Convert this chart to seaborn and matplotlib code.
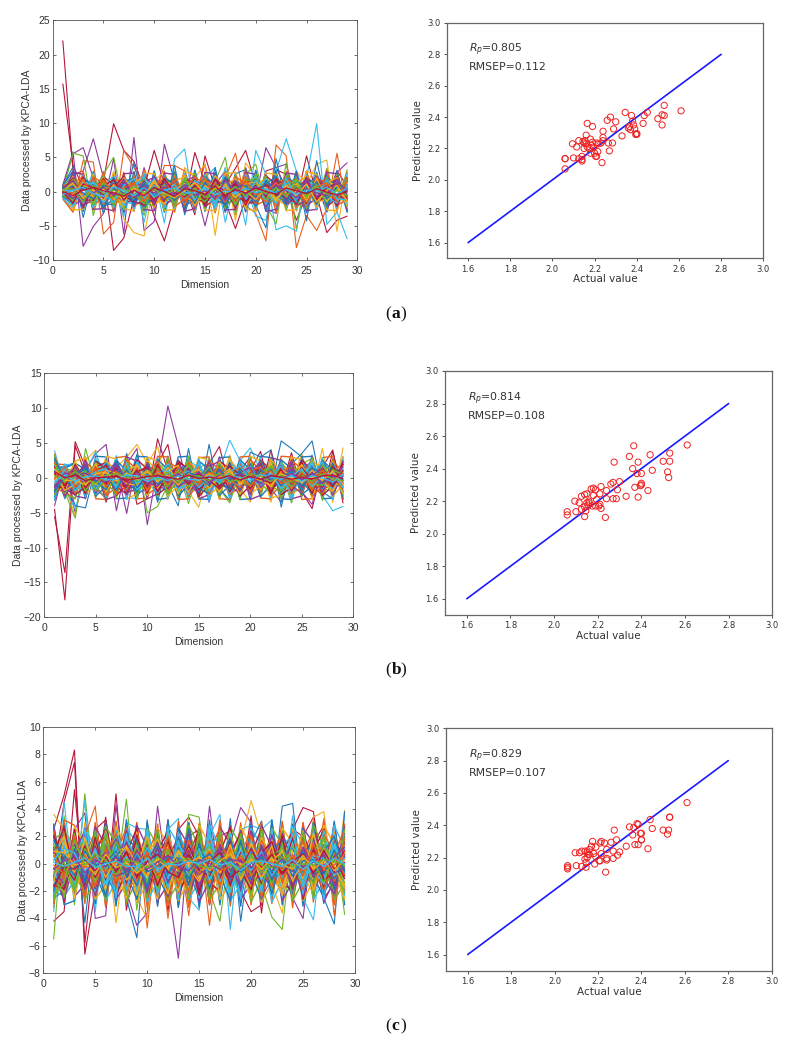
import numpy as np
import matplotlib
matplotlib.use('Agg')
import matplotlib.pyplot as plt
import seaborn as sns

dims=list(range(1,30))
matlab_colors=['#1f78b8','#e8601c','#f2ae1c','#8e3a9d','#6fb52c','#35bdf0','#b5173a']

# ---- panel a ----
a_peaks=[
[22.0,3.0,-1.2,0.8,1.5, 9.9,6.0,4.4,0.5,6.0, 1.0,2.0,-1.5,5.7,1.2, -0.8,1.0,3.4,6.0,1.0, -1.0,3.2,2.5,-1.5,5.2, -0.5,-6.0,-4.2,-3.6],
[15.7,3.8,0.5,-1.0,2.8, -8.6,-6.8,-1.0,1.0,-3.6, -7.2,-2.0,0.8,-3.4,5.2, 0.5,-1.5,-5.4,-1.0,-2.0, 3.0,3.5,0.5,-4.2,-0.5, 2.5,-1.0,3.0,0.8],
[0.5,5.5,6.4,2.0,-2.0, 4.8,-6.2,7.9,-5.7,-4.4, 6.9,1.5,-2.0,1.0,-5.0, 1.0,3.0,-2.0,3.5,-1.0, 6.4,3.5,4.0,-1.5,-2.5, 1.0,-3.0,2.8,4.2],
[1.0,5.8,-8.0,-5.1,-3.2, 1.5,-2.0,2.5,-2.8,1.0, -2.0,1.8,-3.0,3.0,-2.0, 2.0,-1.5,2.2,-3.0,1.2, -2.5,-3.2,2.0,-2.0,1.5, -2.0,2.5,-2.0,2.0],
[-0.6,2.5,3.0,7.7,2.0, -1.5,2.0,-2.5,3.5,-2.0, 1.5,-2.0,2.5,-1.8,1.0, -2.5,2.0,-1.0,1.5,-2.5, 2.0,-1.5,1.8,-2.4,1.2, 2.0,-2.0,1.5,-2.2],
[-0.5,-2.0,4.5,4.3,-6.2, -4.5,6.0,3.5,1.0,-1.0, 3.8,3.8,3.0,-1.0,4.0, -3.0,2.0,5.6,-2.0,-3.2, -7.2,6.8,5.2,-8.2,-3.5, -5.7,-2.5,5.6,-3.0],
[-0.8,-3.0,1.5,-2.0,1.0, 2.0,-4.0,-6.0,-6.5,1.5, 3.0,-2.5,3.5,2.0,4.0, -6.4,3.5,-4.2,4.2,2.0, -1.5,2.0,-2.5,3.0,1.0, 4.0,4.6,-5.8,2.8],
[0.3,2.0,-1.0,3.0,-3.0, 1.0,-3.7,2.0,-4.5,2.0, -4.6,4.7,6.2,-3.0,2.0, 3.5,-4.5,2.0,-4.9,6.0, 2.5,-5.6,-5.0,-5.8,2.0, 9.9,-4.8,-3.0,-6.9],
[0.5,-1.0,2.0,-2.0,2.5, -2.5,1.5,-2.0,3.0,-2.5, 2.0,-1.0,2.0,-3.0,1.5, -2.0,3.5,-2.5,1.0,-3.6, -4.2,3.0,7.7,3.0,-1.0, 2.5,-2.0,1.5,-3.0],
[0.2,5.6,5.2,-3.5,2.5, 5.0,-2.0,1.5,-3.5,2.0, -1.5,3.0,-2.8,2.5,-2.0, 1.5,5.0,-3.4,2.5,4.0, -2.0,-4.7,4.2,-5.5,3.0, -2.0,3.4,-2.0,3.2],
[0.8,3.6,-3.8,2.0,-3.2, 2.4,-1.5,4.2,-2.5,2.8, -3.0,3.8,-3.4,2.0,-2.2, 3.5,-3.0,2.6,3.2,-2.0, -5.3,4.8,-2.0,3.0,-4.3, 4.5,-2.2,3.0,-3.0],
]
a_peak_colors=['#b5173a','#b5173a','#8e3a9d','#8e3a9d','#8e3a9d','#e8601c','#f2ae1c','#35bdf0','#35bdf0','#6fb52c','#1f78b8']
a_wide=[
[0.9,3.0,-2.9,2.8,-3.0, 2.7,-3.1,2.9,-2.8,3.0, -3.0,2.8,-2.7,3.1,-2.9, 2.8,-3.0,2.7,-2.9,3.1, -2.8,3.0,-2.7,2.9,-3.1, 2.8,-2.9,3.0,-2.8],
[-1.1,-3.0,2.9,-2.7,2.9, -3.0,2.8,-2.9,3.1,-2.7, 2.9,-3.0,3.1,-2.8,2.7, -3.1,2.9,-2.8,3.0,-2.9, 2.7,-3.1,2.9,-2.8,3.0, -2.7,3.1,-2.9,2.8],
[0.5,-2.7,-2.6,2.6,-2.7, 2.9,-2.5,-2.8,2.7,2.6, -2.8,-2.6,2.9,2.5,-2.7, -2.8,2.6,2.8,-2.5,-2.9, 2.7,2.5,-2.8,-2.6,2.9, 2.5,-2.7,-2.8,2.6],
[-0.8,2.8,2.5,-2.6,-2.5, -2.8,2.6,2.7,-2.6,-2.8, 2.7,2.5,-2.9,-2.5,2.8, 2.6,-2.7,-2.6,2.8,2.5, -2.9,-2.6,2.7,2.5,-2.8, -2.6,2.8,2.6,-2.7],
[0.7,2.4,-2.3,2.2,-2.4, 2.1,-2.6,2.4,-2.5,2.3, -2.6,2.5,-2.2,2.6,-2.4, 2.2,-2.5,2.4,-2.2,2.6, -2.3,2.4,-2.6,2.1,-2.5, 2.3,-2.4,2.5,-2.2],
[-0.9,-2.5,2.4,-2.3,2.3, -2.4,2.2,-2.6,2.6,-2.2, 2.3,-2.4,2.6,-2.3,2.5, -2.6,2.3,-2.2,2.5,-2.4, 2.5,-2.2,2.3,-2.5,2.4, -2.6,2.2,-2.4,2.6],
[0.4,1.9,-2.0,-1.2,2.1, 1.1,-1.9,-1.0,2.2,0.9, -2.1,-0.8,1.8,1.3,-2.2, -1.1,2.0,0.8,-1.9,-1.4, 2.3,1.0,-2.0,-0.9,1.9, 1.2,-2.2,-1.0,2.1],
[-0.5,-1.8,1.9,1.0,-2.1, -1.2,2.0,0.9,-2.2,-0.8, 1.9,1.2,-2.0,-1.3,2.2, 0.9,-2.1,-1.0,1.8,1.1, -2.2,-0.8,2.1,1.2,-1.9, -1.1,2.1,0.8,-2.0],
[0.9,1.2,2.2,-1.9,-1.0, 2.0,1.1,-2.1,-1.2,2.1, 0.8,-2.2,-1.1,2.0,1.3, -1.9,-0.9,2.2,1.0,-2.0, -1.3,2.0,0.9,-2.3,-1.0, 1.9,1.1,-2.0,-1.2],
[-0.2,2.2,0.9,-2.2,1.8, -1.1,-2.2,1.9,1.2,-1.9, -1.0,1.6,2.1,-1.6,-1.4, 2.3,0.6,-1.8,2.0,-1.2, -0.7,1.7,-2.1,1.3,2.2, -1.5,-1.2,2.0,-1.8],
[0.6,-2.1,-1.0,2.0,-1.5, 1.7,0.6,-2.2,1.5,2.0, -1.7,-1.2,1.2,-2.3,1.8, 0.8,-1.6,1.9,-2.2,-0.7, 1.8,-1.5,0.7,2.0,-2.1, -0.9,1.9,-1.5,1.0],
[-0.7,1.5,-1.4,0.7,2.2, -2.1,1.6,1.0,-1.6,-2.1, 2.2,0.5,-1.7,1.6,-1.3, 2.0,-2.2,-0.6,1.4,2.1, -1.8,-1.0,2.2,-1.2,0.8, 2.0,-1.7,1.1,-2.2],
[0.3,-1.4,1.3,-2.3,0.9, 2.2,-1.5,-1.8,0.8,1.7, -2.3,1.3,-1.1,2.0,-0.7, -2.1,1.7,-1.3,0.6,2.2, -1.4,2.1,-1.6,-1.7,1.5, 0.7,-2.1,1.7,-0.8],
[-0.1,2.0,-2.4,1.7,-1.9, 0.6,2.2,-1.4,-2.0,1.5, 0.7,-2.0,2.0,-0.9,-1.6, 1.9,0.4,-2.3,1.6,0.9, -2.1,1.5,1.2,-1.8,2.1, -1.6,-0.6,2.2,-1.3],
[0.8,-1.7,2.0,0.6,-1.8, -1.9,1.4,2.0,-0.9,-1.6, 2.1,1.0,-2.2,0.5,2.0, -1.3,-1.8,1.6,0.7,-2.2, 1.1,2.2,-0.9,-1.5,1.3, 1.9,-2.0,-0.5,1.8],
[-0.6,0.7,-1.7,2.1,1.2, -1.7,-1.1,2.2,-1.3,0.5, -1.9,2.2,-0.5,-2.0,1.4, 1.2,-2.0,0.5,2.2,-1.7, 0.4,-2.0,1.9,0.9,-2.2, 1.3,1.8,-1.9,0.4],
[0.2,-2.6,1.6,-1.0,2.0, -0.5,-2.0,1.3,2.1,-2.3, 1.0,-1.5,2.3,-1.2,-0.9, 2.1,-1.4,1.5,-2.4,0.8, 2.0,-1.1,-2.0,1.7,0.5, -2.3,1.4,0.9,-2.1],
[-0.3,2.7,-1.1,1.3,-2.4, 1.3,0.9,-1.6,-1.7,2.2, -0.4,-1.8,1.5,2.2,-2.0, 0.5,1.6,-2.2,0.9,1.8, -2.2,0.6,1.6,-2.0,-1.3, 2.2,0.5,-2.2,1.6],
]
a_band=[
[0.2,-1.5,1.0,-2.0,1.5, -1.8,0.8,-1.2,2.0,-1.5, 1.2,-2.2,1.6,-0.8,2.1, -1.6,0.5,-2.0,1.8,-1.0, 2.2,-0.9,1.4,-2.1,0.7, -1.7,2.0,-1.3,0.9],
[-0.3,0.9,-1.7,1.6,-0.6, 1.4,-2.1,1.0,-0.7,1.9, -1.3,0.6,-1.9,1.5,-1.1, 2.0,-1.4,1.1,-0.5,1.7, -1.9,1.2,-0.6,1.8,-2.0, 0.9,-1.2,1.6,-1.8],
[0.6,-0.4,2.1,-1.1,1.9, -0.7,1.3,-1.8,0.4,-2.0, 1.7,-0.8,1.1,-1.9,0.8, -1.2,1.9,-0.5,-1.6,1.3, -0.6,1.6,-1.7,0.5,1.8, -1.4,0.7,-2.0,1.5],
[-0.7,-1.9,0.7,-0.4,-1.4, 2.0,-0.9,1.7,-1.6,0.9, -0.5,1.8,-1.2,1.0,-1.7, 0.6,-2.1,1.4,-0.9,1.9, -1.1,0.3,1.7,-1.3,-0.4, 1.5,-1.9,0.8,-0.7],
[0.1,1.4,-0.9,2.0,-2.1, 0.6,1.6,-0.8,-1.4,0.7, 2.0,-1.6,0.3,2.2,-1.0, -0.4,1.3,-1.5,1.0,-1.7, 0.8,-2.1,1.0,0.4,-1.5, 2.1,-0.6,-1.1,2.0],
[-0.1,-0.8,1.5,-1.6,0.5, -1.2,2.0,0.3,1.4,-0.9, -1.8,1.2,-0.7,-1.5,1.6, -0.9,0.9,1.9,-1.8,0.6, 1.5,-1.3,-0.9,1.3,-0.9, -0.5,1.3,2.0,-1.6],
[0.4,0.3,-2.3,0.8,-0.9, -0.3,-1.4,1.1,0.9,-1.6, 0.6,1.4,-1.5,0.7,-0.6, 1.7,-1.1,0.4,1.3,-1.3, 0.2,1.1,-1.8,-0.8,2.0, -1.0,1.0,-0.7,0.3],
[-0.5,1.8,0.3,-0.7,1.1, -2.0,0.5,-0.4,-1.1,1.4, -0.9,-1.1,2.0,-0.3,-1.3, 1.1,-0.6,-1.1,0.7,2.0, -0.4,-1.6,0.7,1.9,-1.1, 0.5,-1.6,1.2,-0.2],
[0.3,-2.2,1.3,1.2,-1.7, 0.9,-1.0,0.6,2.2,-0.4, 1.0,-0.5,0.9,-1.2,0.3, -1.9,1.5,-0.2,-1.3,0.4, 1.8,-0.4,1.2,-1.6,0.2, 1.2,-0.8,-1.7,1.1],
[-0.2,0.6,-1.2,-1.3,0.8, 1.7,-0.6,-1.5,0.5,1.1, -1.4,0.9,-0.3,1.8,-1.9, 0.2,-0.8,1.0,-2.0,0.9, -0.8,1.9,-1.2,0.9,-1.8, 1.7,0.3,-0.4,-1.3],
[0.7,-1.1,0.4,1.0,-2.4, 0.4,1.1,-2.0,1.2,0.2, -1.1,-0.3,1.4,-0.6,1.2, -0.7,2.1,-1.2,0.3,-0.8, 1.3,-0.2,-2.0,1.5,0.6, -1.9,1.7,-0.9,0.6],
[-0.4,1.1,-0.5,0.4,1.6, -1.5,-0.4,1.4,-0.9,-1.2, 0.4,1.6,-2.0,1.2,-0.4, 1.3,-1.7,0.7,1.5,-0.3, -1.5,0.8,1.5,-0.5,-1.2, 0.2,1.0,-1.5,1.9],
[0.0,-0.5,1.8,-0.9,0.3, 0.9,-1.7,0.9,-0.3,1.6, -0.7,0.2,1.2,-2.1,0.9, -0.4,0.3,-0.9,1.1,1.4, -0.3,-1.1,0.4,1.1,-1.4, 1.9,-1.4,0.4,-0.9],
[0.5,1.6,-1.4,0.2,-1.1, 0.2,1.4,-0.7,1.6,-1.9, 1.5,-1.4,0.6,0.5,-0.8, 0.9,-1.3,1.6,-0.6,-1.1, 0.7,1.4,-1.0,-0.2,1.4, -0.7,-0.3,1.8,-0.5],
[-0.6,-1.3,0.8,-1.8,1.3, -0.9,0.2,-0.2,-1.8,0.5, 0.9,-1.7,1.8,-0.4,-1.5, 0.7,1.2,-1.8,0.4,1.1, -1.2,0.5,-0.3,1.6,-0.7, 1.1,-1.0,0.2,1.7],
[0.2,0.1,-0.7,1.4,-0.2, -1.6,0.9,1.9,-1.0,0.9, -0.2,1.0,-1.0,1.6,0.4, -1.5,0.7,-0.4,-1.0,1.6, 0.4,-1.8,1.9,-1.1,0.9, -0.3,1.6,-1.1,-1.2],
[-0.1,-1.7,1.1,0.6,-0.5, 1.2,-1.2,0.1,0.7,-1.3, 1.9,-0.2,-0.8,0.9,-1.2, 1.9,-0.4,1.2,-1.5,0.2, 1.0,-0.6,0.2,-1.9,1.2, -1.2,0.5,1.1,-1.0],
[0.4,0.8,-0.2,-1.1,0.9, 0.4,-0.2,-1.3,1.3,-0.6, 0.3,-1.3,0.4,-1.7,1.4, -0.2,-1.9,0.6,0.9,-1.5, 1.6,0.2,-1.4,0.7,-0.2, 1.4,-1.1,0.6,0.3],
[-0.3,-0.2,1.7,-0.5,1.7, -0.4,0.6,1.2,-1.3,0.3, -1.0,0.7,-1.3,0.2,1.9, -1.1,0.4,-1.4,1.6,-0.5, -0.1,1.3,-0.5,0.3,-1.6, 0.7,1.3,-0.6,1.4],
[0.1,1.2,-1.0,0.3,-1.3, 1.0,-0.9,0.5,-0.5,1.3, -0.3,-0.9,0.1,1.3,-0.3, 0.4,1.0,-0.8,0.2,-1.2, 0.6,-1.4,0.9,-0.6,1.1, -1.5,0.2,0.9,-1.4],
[-0.2,-1.0,0.5,-0.2,0.6, -0.6,1.8,-0.9,0.2,-0.2, 0.7,-0.4,1.0,-0.6,0.1, -1.0,1.6,0.1,-0.4,0.8, -0.6,0.9,0.1,-0.9,0.4, -0.2,-0.6,1.4,0.2],
[0.3,0.4,-1.5,0.9,-0.3, 0.2,-0.5,0.8,-0.2,0.4, -0.6,0.3,-0.5,0.5,-0.9, 0.3,-0.3,0.7,-0.7,0.3, -0.3,0.5,-0.7,0.8,-0.5, 0.6,-0.4,0.1,-0.6],
[-0.4,0.2,0.6,-0.3,-0.7, 0.7,0.1,-0.6,0.6,-0.8, 0.2,0.5,-0.2,-0.2,0.6, -0.5,0.1,-0.3,0.5,-0.2, 0.4,-0.3,0.3,-0.4,0.2, 0.1,0.6,-0.4,0.5],
[0.0,-0.6,0.2,0.6,0.1, -0.2,-0.7,0.2,-0.6,0.6, 0.0,-0.7,0.4,0.1,-0.4, 0.8,-0.6,0.3,-0.2,0.5, 0.0,-0.4,0.5,0.1,-0.3, 0.4,-0.1,-0.5,0.0],
]
a_actual=[2.06,2.06,2.06,2.095,2.10,2.115,2.125,2.125,2.14,2.14,2.14,2.145,2.15,2.15,2.155,2.16,2.16,2.165,2.165,2.175,2.18,2.18,2.185,2.19,2.19,2.195,2.20,2.205,2.21,2.21,2.215,2.22,2.23,2.235,2.24,2.24,2.24,2.26,2.265,2.27,2.275,2.285,2.29,2.30,2.33,2.345,2.36,2.365,2.37,2.375,2.38,2.385,2.39,2.395,2.40,2.40,2.43,2.435,2.45,2.50,2.52,2.52,2.53,2.53,2.61]
a_pred=[2.07,2.135,2.135,2.23,2.14,2.21,2.25,2.135,2.13,2.15,2.12,2.245,2.235,2.20,2.25,2.285,2.23,2.21,2.36,2.20,2.26,2.17,2.22,2.34,2.24,2.21,2.17,2.15,2.15,2.235,2.18,2.23,2.235,2.11,2.31,2.27,2.25,2.38,2.235,2.185,2.40,2.235,2.325,2.37,2.28,2.43,2.33,2.34,2.32,2.41,2.375,2.35,2.325,2.29,2.29,2.295,2.36,2.41,2.43,2.39,2.35,2.415,2.475,2.41,2.44]

# ---- panel b ----
b_peaks=[
[-5.6,-13.6,5.2,1.5,-1.0, 2.5,-2.0,3.0,-3.8,-3.0, 5.6,1.0,-2.0,2.5,-1.0, 2.0,4.5,-1.5,1.0,3.0, -2.0,4.0,-1.5,3.6,-2.0, -4.4,1.5,4.0,-3.6],
[-4.5,-17.5,4.6,0.5,1.5, -3.5,2.0,-2.0,1.5,-2.5, 2.0,4.8,-3.0,1.0,-2.5, 1.5,-3.0,2.5,-2.0,1.0, 3.8,-2.5,2.0,-2.0,3.0, -1.0,-2.5,3.8,-2.0],
[-4.0,1.8,-5.0,1.0,3.5, 4.8,-4.7,2.0,4.2,-6.7, 1.5,10.3,4.6,-2.0,1.5, -3.5,2.0,-1.0,2.5,-2.0, 1.5,-1.5,-3.5,2.5,-2.0, -3.8,2.0,-1.0,1.0],
[-1.0,0.5,-2.0,2.0,-1.5, -3.0,1.5,-5.1,3.0,-2.0, 2.5,-1.5,2.0,-3.0,2.5, -2.0,1.0,-2.0,1.5,-1.0, 2.0,-1.5,2.5,-1.5,1.0, 2.5,-2.0,1.5,-1.5],
[3.0,-1.0,-5.5,2.5,4.0, -3.0,1.5,3.0,4.8,2.0, 4.5,-1.5,2.5,-2.0,-4.2, 2.0,-1.5,3.3,-1.5,-3.5, 2.0,-3.5,2.5,-1.0,3.5, -2.0,4.2,-3.5,4.3],
[2.5,-2.0,-5.8,4.2,-1.0, -3.2,2.0,-1.0,2.8,-5.0, -4.1,-1.0,1.0,-3.7,1.5, 2.0,-1.5,-3.6,1.0,-2.5, 1.5,-1.5,1.0,-3.6,2.0, 2.8,-1.5,-2.0,2.0],
[3.9,-1.5,-4.5,1.0,3.8, -1.5,3.2,-2.8,-3.0,1.0, -2.6,2.8,-3.0,2.5,1.5, -3.4,1.0,5.4,2.5,4.3, 1.0,-1.0,2.0,-2.0,-1.5, 3.3,-2.5,-4.7,-4.1],
[-1.5,0.5,-4.0,-4.3,1.5, -2.8,2.5,-1.5,3.4,-2.0, 1.5,-1.0,-4.0,4.2,-3.0, 4.8,-2.5,2.0,-3.0,3.7, 3.0,4.0,-4.2,2.0,3.5, 5.3,-2.0,-3.0,2.0],
[1.0,-3.0,2.0,-2.0,2.5, 1.5,-2.5,3.5,-3.0,2.8, -3.5,2.5,-2.0,2.0,-2.5, 2.8,-1.5,-3.2,2.0,-2.0, 2.5,-1.5,5.3,4.2,3.0, -1.0,2.0,-2.0,2.5],
]
b_peak_colors=['#b5173a','#b5173a','#8e3a9d','#8e3a9d','#f2ae1c','#6fb52c','#35bdf0','#1f78b8','#1f78b8']
b_wide=[
[-3.2,1.6,2.2,-3.0,3.1, 3.0,-3.0,-2.9,3.1,3.0, -3.1,-2.9,3.0,3.1,-3.0, -3.1,2.9,3.0,-3.1,-3.0, 3.1,2.9,-3.0,-3.1,3.0, 3.1,-3.0,-2.9,3.0],
[3.4,-2.0,-3.0,3.0,-3.0, -3.1,2.9,3.1,-3.0,-2.9, 3.1,3.0,-3.1,-3.0,2.9, 3.0,-3.0,-3.1,3.0,3.1, -2.9,-3.0,3.1,3.0,-3.1, -3.0,2.9,3.1,-3.1],
[2.1,-1.4,2.4,2.9,-2.2, 3.1,2.7,-3.0,-2.3,3.0, 2.4,-3.1,2.6,-2.4,3.0, 2.5,-3.0,2.9,-2.3,3.1, 2.4,-2.9,-2.5,3.0,2.6, -3.1,2.4,-2.7,3.0],
[-2.2,1.2,-2.6,-2.9,2.3, -3.1,-2.6,3.0,2.4,-3.0, -2.3,3.1,-2.5,2.4,-3.0, -2.4,3.0,-2.8,2.3,-3.1, -2.5,2.9,2.5,-3.0,-2.6, 3.1,-2.4,2.7,-3.0],
[3.2,-2.4,-2.9,2.5,-2.8, 2.6,-2.9,2.8,-3.0,2.6, -2.7,3.0,-2.8,3.1,-2.9, 2.7,-2.8,2.5,-3.1,2.9, -2.6,2.8,-3.0,2.6,-2.7, 2.9,-3.2,2.6,-2.8],
[-3.0,1.9,1.9,-2.7,2.8, -2.8,2.7,-3.1,2.9,-2.5, 2.8,-2.9,2.6,-2.8,2.7, -3.1,2.6,-3.0,2.7,-2.6, 2.9,-2.8,2.5,-3.0,2.8, -2.5,2.9,-3.1,2.7],
[2.6,-1.6,-2.4,-1.3,2.4, 1.2,-2.5,-1.0,2.6,1.3, -2.4,-1.2,2.5,1.1,-2.7, -1.0,2.4,1.3,-2.6,-1.1, 2.5,1.2,-2.4,-1.4,2.6, 1.0,-2.5,-1.2,2.4],
[-2.7,1.4,2.1,1.2,-2.6, -1.2,2.5,1.0,-2.4,-1.3, 2.6,1.2,-2.6,-1.0,2.4, 1.3,-2.5,-1.1,2.6,1.2, -2.7,-1.0,2.6,1.3,-2.4, -1.2,2.5,1.1,-2.6],
[2.0,1.9,-1.0,2.3,0.9, -2.5,-1.4,2.6,1.1,-2.4, -1.3,2.3,1.4,-2.6,-1.0, 2.5,1.2,-2.3,-1.4,2.6, 1.0,-2.5,-1.1,2.5,1.3, -2.6,-1.2,2.4,0.9],
[-1.9,-1.2,1.8,-2.2,-1.2, 2.4,1.1,-2.3,-1.5,2.5, 1.0,-2.6,-1.1,2.3,1.2, -2.4,-1.3,2.6,0.9,-2.3, -1.2,2.6,1.0,-2.4,-1.3, 2.5,1.2,-2.6,-1.0],
[1.7,-2.6,-0.4,2.5,-1.8, 0.7,2.3,-2.1,-1.6,2.2, -0.9,-2.0,2.4,-0.7,-2.3, 1.6,2.4,-1.2,-2.2,0.8, 2.3,-1.7,-0.5,2.5,-2.0, 0.8,1.9,-2.5,0.6],
[-1.6,1.3,1.0,-1.8,2.1, -0.6,-2.4,1.9,1.0,-2.2, 2.2,0.6,-1.9,2.3,-0.8, -2.2,1.7,0.9,-2.4,2.1, -0.8,-2.2,2.2,0.5,-1.7, 2.4,-0.7,-2.0,1.9],
[2.4,0.9,-1.9,0.9,-2.4, 1.9,0.6,-1.6,2.3,-0.6, -2.2,1.5,0.8,-2.4,2.0, -0.5,-1.8,2.3,0.7,-2.1, 1.6,-0.4,2.1,-2.5,0.5, 2.2,-2.1,0.7,-2.3],
[-2.3,-0.5,0.8,-2.3,1.6, 2.2,-1.3,-2.3,0.5,1.8, -1.6,-0.5,2.2,1.4,-2.4, 0.6,-0.8,2.1,-2.0,1.3, 0.9,-2.3,1.6,-0.6,2.3, -1.7,-0.6,2.0,-1.3],
[1.2,1.7,-2.2,1.9,-0.5, -1.8,2.4,-0.4,-2.1,1.9, 0.4,-2.3,1.0,1.9,-1.5, -2.3,2.2,-0.6,1.2,-2.3, 2.4,0.5,-1.9,1.6,-0.4, -2.3,2.2,0.6,-2.0],
[-1.3,-2.2,1.3,0.6,1.8, -2.3,0.7,1.5,-1.2,0.8, 2.4,-1.7,-0.9,2.2,0.6, -1.7,0.5,-2.4,1.9,0.2, -1.9,1.7,0.5,-2.3,1.2, 1.7,-2.3,0.2,1.7],
[0.9,-0.9,2.4,-1.6,0.7, 1.6,-2.1,1.3,1.7,-2.5, 0.8,1.6,-2.3,0.4,1.7, -1.4,2.3,0.4,-2.3,1.1, -0.3,2.1,-2.2,0.9,1.8, -0.5,-1.6,2.3,-0.9],
[-0.8,0.7,-0.7,1.7,-2.0, 0.4,1.5,-2.4,0.8,1.4, -1.9,0.3,1.9,-2.1,-0.6, 2.3,-1.0,-1.5,0.9,-2.4, 1.3,0.3,1.8,-1.1,-2.2, 1.3,0.8,-1.4,2.2],
[2.9,-2.2,0.5,-0.9,2.2, -1.4,-0.7,2.1,-2.4,0.6, 1.7,-2.4,-0.2,1.6,-1.8, 1.0,-2.3,1.6,0.2,-1.7, 2.2,-1.0,-2.2,1.9,0.3, -2.1,1.0,1.7,-2.4],
[-2.6,2.0,-1.6,1.5,0.3, 2.2,-1.7,0.2,1.3,-1.7, 0.2,2.0,-1.6,-0.9,2.3, -1.9,0.8,-2.2,2.4,0.5, -1.6,1.2,-0.3,-2.0,1.5, 0.4,2.3,-1.8,0.9],
]
b_band=[
[1.5,-1.2,0.9,-1.5,1.8, -0.8,1.4,-1.9,1.1,-2.2, 1.6,-0.6,2.0,-1.7,0.7, -1.3,1.8,-2.0,0.6,-1.4, 2.1,-1.1,1.3,-1.9,0.5, -2.2,1.7,-1.2,2.0],
[-1.8,1.0,-1.2,1.7,-1.3, 2.0,-1.6,0.7,-2.0,1.3, -0.9,1.7,-1.4,0.8,-2.1, 1.5,-0.7,1.9,-1.8,2.0, -0.6,1.6,-2.1,1.2,-1.0, 1.8,-1.5,2.1,-0.8],
[2.2,0.4,-2.2,0.6,-0.9, 1.5,-2.3,1.8,0.3,-1.5, 2.1,-1.9,0.6,-1.1,1.7, -2.2,1.0,0.5,1.6,-2.0, 0.9,-1.9,0.8,1.7,-2.1, 0.6,1.5,-1.8,0.7],
[-0.6,-0.8,1.6,-0.7,2.0, -2.0,0.5,-1.0,1.9,-0.6, -1.5,0.9,1.8,-2.1,1.0, 0.3,-2.0,1.2,-0.8,1.0, -1.7,0.7,-1.4,-0.3,1.9, -1.1,0.4,1.0,-2.2],
[0.8,-2.0,0.2,1.9,-2.2, 0.9,1.7,-0.5,-1.3,1.8, -0.3,-1.6,0.5,1.4,-1.2, 1.8,-1.5,0.2,-1.9,0.7, 1.8,-0.4,-1.0,2.0,-1.4, 0.9,-2.0,0.6,1.5],
[-2.4,0.6,1.2,-1.9,0.7, -1.1,0.2,1.4,-0.9,0.4, 1.4,-2.1,-0.5,1.9,-0.5, -1.0,2.0,-1.2,1.1,-0.9, 0.3,1.5,-1.9,0.6,1.1, -1.6,1.9,-0.6,-1.2],
[1.1,1.4,-0.7,0.9,-1.6, 0.1,-1.4,2.1,-1.7,-0.2, 0.8,1.2,-1.7,0.3,1.9, -1.9,0.6,-0.6,-1.1,1.7, -1.2,0.4,1.7,-1.5,0.2, 2.0,-0.9,-1.5,1.3],
[-1.0,-1.5,1.9,-0.2,1.0, 1.8,-0.8,-1.3,0.9,1.5, -2.0,0.3,-0.8,1.2,-1.7, 0.9,-1.3,1.7,0.4,-1.6, 1.0,-2.0,0.5,-0.7,1.5, -0.4,-1.3,1.6,-0.4],
[2.8,-0.3,-1.6,1.4,-0.4, -1.7,1.0,0.2,-0.5,-1.1, 0.5,-0.9,1.3,-1.5,0.4, 1.2,-0.5,-1.7,1.3,0.3, -0.7,1.2,-1.2,0.9,-1.9, 1.4,0.6,-1.0,0.2],
[-0.2,0.9,0.5,-1.2,1.5, 0.6,-0.4,-1.8,1.4,-1.9, 1.1,-0.4,0.9,-0.7,-1.0, 0.4,1.5,-0.2,-1.4,0.9, 1.6,-0.9,0.3,-1.6,0.8, -1.8,1.2,0.1,-1.7],
[0.4,-1.8,-0.9,0.3,-1.0, 1.1,0.7,-0.8,-1.1,0.8, -0.7,1.5,-0.4,0.6,1.2, -1.5,0.2,1.3,-0.9,-0.4, 0.5,-1.3,1.1,0.4,-0.9, 1.1,-0.4,-1.9,0.9],
[-1.4,0.2,1.5,-0.6,0.4, -0.5,1.9,-0.2,0.7,-0.7, -1.2,0.5,-1.3,-0.3,0.8, -0.6,1.1,-1.1,0.8,1.5, -1.4,0.1,-0.6,1.3,-0.3, 0.3,1.4,-0.7,-0.6],
[1.9,-0.7,0.1,1.1,-1.9, -0.2,-1.0,1.0,0.1,1.1, 0.2,-1.2,1.1,-1.3,-0.2, 1.6,-0.9,0.6,-0.2,-1.2, 0.7,1.7,-0.3,-1.2,0.9, -0.7,-1.1,1.2,0.4],
[-0.9,1.2,-1.9,0.1,0.9, 1.3,-1.2,0.5,-0.7,0.1, -0.4,0.7,0.2,1.0,-1.4, 0.1,-0.7,0.9,1.7,-0.2, -1.0,0.6,-1.6,0.2,1.3, -1.2,0.2,0.8,-1.4],
[0.6,-1.0,1.0,-1.4,0.2, -0.9,0.4,-0.6,1.1,-1.3, 1.9,-0.6,0.4,-0.9,0.6, -0.3,-1.6,0.2,-0.6,0.6, -0.2,-0.7,1.2,-0.9,0.5, -0.1,0.8,-1.3,1.1],
[-2.0,0.1,0.7,1.3,-0.6, 0.3,-1.8,1.2,-1.4,0.6, -0.9,0.1,-0.6,0.8,0.1, -1.1,1.3,-0.4,0.9,-0.8, 1.2,-0.2,0.1,0.9,-1.1, 0.5,-0.7,0.3,-0.3],
[0.0,1.6,-1.4,0.4,1.2, -1.3,0.9,-0.3,0.5,-0.4, 0.6,-1.0,1.5,-0.2,-0.7, 0.8,0.2,-0.9,0.2,-1.1, 0.4,1.0,-0.8,-0.4,0.7, -0.9,1.1,-0.4,0.6],
[1.3,-0.4,-0.3,-1.0,0.6, 0.8,-0.5,0.7,-0.2,1.0, -0.5,0.4,-1.0,0.5,-0.4, 0.6,-0.2,1.0,-0.7,0.3, -0.4,-1.1,0.6,-0.1,-0.6, 0.2,-0.3,0.9,-0.9],
[-1.2,0.7,0.3,0.7,-0.3, -0.6,0.3,-1.1,0.8,-0.9, 0.4,-0.2,0.6,-0.6,0.9, -0.8,0.5,-0.1,0.5,0.1, -0.9,0.4,-0.3,0.6,-0.2, 0.7,-0.8,0.2,0.3],
[0.3,-0.3,0.9,-0.2,-0.8, 0.4,0.6,0.1,-0.4,0.3, -0.2,0.8,-0.6,0.2,0.3, -0.4,0.7,-0.5,-0.3,0.6, 0.2,-0.5,0.4,-0.7,0.3, -0.5,0.6,-0.2,-0.4],
[-0.5,0.4,-0.5,0.2,0.3, -0.3,-0.2,0.4,0.3,-0.5, 0.1,-0.4,0.3,-0.2,-0.3, 0.3,-0.3,0.2,0.1,-0.4, 0.5,0.1,-0.2,0.3,-0.5, 0.3,0.0,-0.6,0.5],
[0.9,0.0,0.4,-0.4,0.0, 0.1,0.2,-0.3,-0.1,0.2, 0.3,0.1,-0.2,0.4,-0.1, 0.1,-0.1,0.3,-0.3,0.2, -0.2,0.3,0.1,-0.2,0.1, -0.2,0.3,0.4,-0.1],
]
b_actual=[2.06,2.06,2.095,2.10,2.115,2.125,2.125,2.14,2.14,2.14,2.145,2.15,2.15,2.155,2.16,2.16,2.17,2.175,2.18,2.18,2.19,2.19,2.195,2.205,2.21,2.21,2.215,2.215,2.235,2.24,2.24,2.26,2.27,2.27,2.275,2.285,2.29,2.30,2.33,2.345,2.36,2.365,2.37,2.38,2.385,2.385,2.395,2.40,2.40,2.40,2.43,2.44,2.45,2.50,2.52,2.525,2.53,2.53,2.61]
b_pred=[2.115,2.135,2.20,2.135,2.19,2.23,2.15,2.105,2.24,2.165,2.14,2.245,2.19,2.175,2.20,2.19,2.275,2.17,2.235,2.28,2.17,2.27,2.21,2.17,2.245,2.18,2.29,2.155,2.10,2.265,2.215,2.305,2.315,2.215,2.44,2.215,2.27,2.32,2.23,2.475,2.40,2.54,2.285,2.37,2.44,2.225,2.295,2.37,2.31,2.30,2.265,2.485,2.39,2.445,2.38,2.345,2.495,2.445,2.545]

# ---- panel c ----
c_peaks=[
[2.5,5.0,8.3,-6.6,-2.0, 3.4,-1.5,1.0,-2.5,2.0, -3.0,2.5,-2.0,3.0,-1.5, 2.0,-2.5,2.5,-2.0,-3.5, -3.0,3.0,-1.5,2.5,4.1, 3.8,-1.5,3.0,-2.0],
[-1.0,4.5,7.4,-5.8,1.5, -2.5,5.1,-3.4,1.0,-2.5, 2.0,-3.5,2.5,3.4,2.0, -3.0,2.0,2.4,-1.5,3.5, -3.6,2.0,-2.0,2.5,2.0, 3.4,-2.5,-1.5,2.5],
[-4.2,-3.5,5.4,-2.5,2.5, 3.2,-2.0,2.5,-2.0,1.5, -2.5,3.2,-3.2,2.0,2.5, -3.0,1.5,-2.0,2.0,-1.0, 2.5,-1.0,-2.0,2.0,-2.5, 1.5,2.8,-2.5,2.0],
[2.8,-1.0,2.5,3.7,-4.0, -3.8,4.3,-2.0,-4.5,-3.6, 4.2,-1.5,-6.9,2.0,-3.0, 4.2,-2.0,1.5,4.1,3.0, -2.5,-1.0,1.5,-2.5,-4.0, 2.5,-2.0,1.0,-2.0],
[3.6,2.5,-1.5,3.0,-3.0, 2.5,-4.3,1.5,-2.5,-4.0, 2.5,-3.0,2.5,-3.0,3.0, -2.5,2.0,-2.0,1.5,4.6, 2.0,-1.5,-3.6,2.5,-2.0, 3.4,3.8,-2.0,3.9],
[-5.5,3.5,-3.0,5.1,-2.5, 2.0,-1.0,4.7,-3.4,2.0, -2.5,2.0,-2.0,3.6,3.4, -2.0,-4.2,1.5,-2.0,2.0, -1.5,-3.9,-4.8,2.0,-2.5, 2.5,-1.5,2.0,-3.7],
[-3.5,4.5,-2.0,4.6,-3.5, 2.5,-3.0,3.0,2.6,2.5, -2.0,2.5,3.3,-2.5,-3.4, 2.0,3.6,-4.8,2.5,2.8, 2.5,3.2,-2.0,3.5,-2.5, -4.1,2.5,-3.0,3.5],
[-2.5,-2.0,2.5,-4.3,2.5, -1.5,3.0,-2.5,-5.4,3.2, -2.5,2.8,-3.2,2.0,-2.5, 3.2,-2.5,3.3,-4.2,1.5, 3.1,-2.5,4.2,4.4,-2.5, 3.0,-2.5,-4.4,3.8],
[-3.2,3.0,-2.2,2.0,4.2, -3.2,2.0,-1.5,3.0,-4.7, 2.2,-4.0,1.5,-3.8,2.0, -4.5,2.5,-2.5,3.0,-2.8, 2.6,-1.2,3.0,-2.6,3.0, -2.0,3.3,-3.8,2.2],
]
c_peak_colors=['#b5173a','#b5173a','#b5173a','#8e3a9d','#f2ae1c','#6fb52c','#35bdf0','#1f78b8','#e8601c']
c_wide=[
[2.9,-3.0,-2.7,2.6,-2.9, 3.0,-3.1,3.2,-2.8,3.0, -3.1,3.2,-2.9,3.0,-3.2, 2.9,-3.0,2.8,-3.1,3.0, -2.8,3.2,-3.0,2.9,-3.1, 3.0,-2.9,3.1,-3.0],
[-2.9,3.2,2.8,-2.9,3.0, -3.1,3.1,-2.9,3.0,-3.2, 2.9,-3.0,3.1,-3.2,2.9, -3.0,3.2,-3.1,2.8,-3.0, 3.1,-2.9,3.1,-3.2,3.0, -2.8,3.1,-3.0,2.9],
[2.3,-2.6,2.7,1.4,-2.6, -1.5,2.7,1.2,-2.8,-1.4, 2.6,1.5,-2.7,-1.2,2.8, 1.4,-2.6,-1.5,2.7,1.2, -2.8,-1.4,2.6,1.5,-2.7, -1.2,2.8,1.4,-2.6],
[-2.4,2.8,-2.4,-1.5,2.7, 1.3,-2.6,-1.4,2.8,1.2, -2.7,-1.5,2.6,1.3,-2.8, -1.2,2.7,1.4,-2.6,-1.5, 2.8,1.2,-2.7,-1.3,2.6, 1.5,-2.8,-1.2,2.7],
[1.8,2.3,1.4,-2.6,-1.3, 2.7,1.5,-2.8,-1.2,2.6, 1.3,-2.7,-1.4,2.8,1.2, -2.6,-1.5,2.7,1.3,-2.8, -1.2,2.6,1.4,-2.7,-1.3, 2.8,1.2,-2.6,-1.5],
[-1.9,-2.4,-1.2,2.4,1.4, -2.7,-1.3,2.6,1.5,-2.8, -1.2,2.7,1.4,-2.6,-1.3, 2.8,1.2,-2.7,-1.5,2.6, 1.3,-2.8,-1.2,2.7,1.4, -2.6,-1.3,2.8,1.1],
[1.2,-2.8,2.0,-2.2,0.8, 2.5,-2.3,0.7,2.6,-2.4, 0.9,2.4,-2.6,0.6,2.5, -2.2,0.8,2.7,-2.4,0.6, 2.6,-2.3,0.7,2.4,-2.6, 0.9,2.5,-2.2,0.7],
[-1.3,2.7,-0.9,2.2,-0.8, -2.5,2.3,-0.7,-2.6,2.4, -0.9,-2.4,2.6,-0.6,-2.5, 2.2,-0.8,-2.7,2.4,-0.6, -2.6,2.3,-0.7,-2.4,2.6, -0.9,-2.5,2.2,-0.7],
[0.7,2.1,-2.3,0.6,2.3, -2.3,0.8,2.6,-2.2,0.7, 2.5,-2.5,0.6,2.3,-2.4, 0.9,2.6,-2.2,0.7,2.4, -2.5,0.6,2.3,-2.6,0.8, 2.4,-2.3,0.7,2.5],
[-0.8,-2.2,2.2,-0.7,-2.4, 2.4,-0.6,-2.5,2.3,-0.8, -2.6,2.4,-0.7,-2.2,2.5, -0.9,-2.4,2.3,-0.6,-2.5, 2.4,-0.7,-2.3,2.5,-0.8, -2.2,2.4,-0.6,-2.6],
[2.6,-1.7,0.8,2.4,-2.0, -0.3,1.9,-2.2,0.2,2.3, -1.8,0.3,2.0,-2.3,-0.2, 2.2,-1.9,0.4,2.4,-2.1, -0.1,2.0,-2.4,0.3,1.8, -2.2,0.2,2.3,-1.9],
[-2.6,1.6,-0.6,-2.3,2.0, 0.3,-1.9,2.2,-0.2,-2.3, 1.8,-0.3,-2.0,2.3,0.2, -2.2,1.9,-0.4,-2.4,2.1, 0.1,-2.0,2.4,-0.3,-1.8, 2.2,-0.2,-2.3,1.9],
[1.5,1.9,-2.6,1.7,-1.1, -2.0,2.4,0.4,-1.6,2.5, -0.6,-1.9,2.3,0.5,-2.5, 1.4,2.0,-0.8,-2.2,1.8, 0.4,-2.4,1.5,1.9,-2.0, -0.5,2.4,-1.7,-0.4],
[-1.6,-1.8,2.5,-1.6,1.1, 2.0,-2.4,-0.4,1.6,-2.5, 0.6,1.9,-2.3,-0.5,2.5, -1.4,-2.0,0.8,2.2,-1.8, -0.4,2.4,-1.5,-1.9,2.0, 0.5,-2.4,1.7,0.4],
[2.0,-0.8,1.0,-1.3,2.4, -0.8,-2.2,1.8,1.2,-2.0, 2.3,-1.1,-0.6,2.5,-1.5, 0.6,-2.3,1.7,-0.3,2.2, -2.0,0.9,1.7,-2.3,0.4, 1.8,-2.1,-0.9,2.2],
[-2.1,0.9,-1.1,1.3,-2.4, 0.8,2.2,-1.8,-1.2,2.0, -2.3,1.1,0.6,-2.5,1.5, -0.6,2.3,-1.7,0.3,-2.2, 2.0,-0.9,-1.7,2.3,-0.4, -1.8,2.1,0.9,-2.2],
[0.9,2.5,-0.2,-2.0,1.7, -1.4,0.5,-2.4,2.0,0.4, -1.7,2.4,-1.3,0.8,-2.0, 2.1,-0.5,-1.4,2.0,-2.4, 0.7,1.8,-2.2,-0.2,2.4, -1.4,-0.7,2.3,-1.6],
[-0.9,-2.6,0.1,2.0,-1.7, 1.4,-0.5,2.4,-2.0,-0.4, 1.7,-2.4,1.3,-0.8,2.0, -2.1,0.5,1.4,-2.0,2.4, -0.7,-1.8,2.2,0.2,-2.4, 1.4,0.7,-2.3,1.6],
]
c_band=[
[1.5,-2.5,2.2,-2.0,2.4, -2.7,2.0,-2.3,1.8,-2.6, 2.5,-2.1,1.7,-2.5,2.6, -2.2,2.4,-1.9,2.1,-2.4, 2.6,-2.0,1.6,-2.6,2.3, -2.5,2.0,-2.3,2.5],
[-2.2,1.8,-1.9,2.5,-2.2, 2.3,-2.5,2.2,-2.0,2.4, -2.3,2.5,-2.6,1.9,-2.0, 2.6,-2.4,2.2,-2.6,1.8, -2.1,2.5,-2.4,2.0,-2.2, 2.4,-2.6,2.1,-2.3],
[0.8,2.6,-0.7,1.2,-1.8, 0.9,-1.4,1.6,-0.5,1.3, -1.6,0.7,-1.1,1.4,-2.0, 1.0,-0.8,1.7,-1.3,0.5, -1.5,1.2,-0.6,1.9,-1.2, 0.6,-1.7,1.1,-0.9],
[-1.5,-0.6,1.7,-1.2,0.6, -0.9,1.5,-0.5,1.8,-1.7, 0.9,-1.3,1.9,-0.6,1.0, -1.8,0.7,-1.2,1.5,-0.4, 1.3,-0.8,1.6,-1.4,0.8, -1.0,1.4,-1.9,0.6],
[2.4,-1.3,0.4,-2.4,1.5, 1.8,-0.3,-1.8,1.1,0.3, -0.6,2.0,-0.4,-1.9,0.8, 1.7,-1.6,0.5,-0.9,2.1, -0.5,-1.7,0.9,0.4,-1.9, 1.6,0.3,-1.3,1.8],
[-0.6,1.0,-2.5,0.8,-0.4, -1.9,0.9,1.2,-2.3,0.8, 1.8,-0.5,-2.0,1.2,-0.9, 0.4,-2.2,1.3,0.6,-1.7, 1.9,0.4,-2.3,0.9,1.4, -2.0,0.7,-0.5,-1.6],
[1.1,0.3,1.4,-0.6,-2.3, 0.5,1.8,-0.9,0.5,-2.1, 1.2,0.2,-0.9,2.2,-1.4, -0.5,1.4,0.1,-1.8,1.2, -0.9,2.1,-0.3,-1.2,0.6, 1.9,-1.1,-2.2,0.8],
[-2.7,-0.3,0.9,1.6,-1.1, 2.2,-1.1,0.4,-0.8,1.7, -1.9,1.1,0.6,-1.2,2.0, -1.3,0.9,-0.6,2.2,-1.0, 0.3,-1.4,1.5,-0.5,-1.4, 0.9,1.8,-0.4,-2.1],
[0.2,1.5,-1.5,0.2,1.0, -0.4,-2.2,1.9,0.2,-1.2, 0.6,-1.7,1.3,0.5,-0.6, 2.1,-0.3,-2.1,0.8,0.6, -1.2,0.9,-0.2,2.2,-0.8, -0.5,-1.5,1.4,0.3],
[-0.9,-1.9,0.6,-1.6,1.9, -1.2,0.4,-1.4,2.1,-0.5, -0.9,1.6,-0.3,0.7,-2.3, 0.8,-1.1,1.0,-0.5,-1.9, 1.0,-0.7,2.0,-1.7,0.2, 1.2,-0.7,0.6,-1.1],
[1.9,0.7,-0.3,1.0,0.2, -2.4,1.1,-0.2,-1.6,1.0, 0.2,-0.8,1.2,-1.6,1.5, -0.7,0.3,1.9,-1.5,0.9, 0.4,-2.2,0.7,1.1,-0.6, -1.3,0.9,2.0,-0.5],
[-1.8,-0.9,2.0,-0.2,-0.8, 1.2,-1.7,0.7,0.9,-0.8, -1.3,0.4,-1.5,1.7,0.3, -1.5,1.8,-0.2,0.4,-1.4, 1.7,0.2,-1.1,-0.4,1.7, -0.6,-1.9,0.3,1.4],
[0.5,2.0,-1.0,1.9,-0.6, 0.2,0.8,-1.2,-0.3,2.0, -0.4,-2.2,0.8,-0.1,-1.1, 1.1,-0.6,0.9,-1.1,1.5, -0.2,1.3,-1.7,0.2,-1.1, 2.2,-0.3,-0.9,0.9],
[-0.3,-1.6,1.0,-0.9,1.3, -0.7,-0.5,1.6,-1.1,0.1, 1.5,-0.2,-0.7,1.0,-1.7, 0.2,1.2,-1.4,0.2,-0.6, 1.1,-1.0,0.5,-1.9,1.2, -0.2,0.8,-1.6,0.5],
[1.3,-0.4,-2.0,0.5,-1.4, 1.5,0.2,-0.7,1.4,-1.4, 0.5,1.0,-1.2,-0.7,0.9, -1.0,-0.2,0.6,1.3,-0.8, -1.6,0.6,1.1,-0.3,0.5, -1.5,1.3,0.2,-1.4],
[-1.1,1.2,0.2,-0.5,0.4, -1.5,1.3,-1.9,0.7,-0.3, 0.9,-1.1,1.7,-1.0,0.1, 1.5,-1.3,0.3,-0.7,1.0, 0.1,-0.5,-1.0,1.5,-1.7, 0.4,-0.2,1.2,-0.7],
[2.1,-0.1,-1.2,1.3,-1.0, 0.6,-0.7,0.9,-0.9,0.6, -1.6,0.3,-0.1,1.3,-0.5, -0.9,0.5,-1.6,0.9,-0.3, 0.8,1.6,-0.7,0.4,-0.3, 1.0,-1.2,-0.6,1.0],
[-2.0,0.5,1.1,-1.4,0.8, -0.2,0.6,-0.4,0.3,-1.7, 1.3,-0.7,0.3,-1.5,1.3, -0.4,0.1,-0.8,1.7,-1.2, 0.6,-1.2,0.2,-0.9,0.9, -0.8,0.5,-1.1,0.1],
[0.6,-1.1,0.0,0.6,-1.7, 1.0,-1.3,0.2,-1.3,0.9, -0.2,1.4,-1.7,0.4,-0.2, 0.9,-1.7,1.1,-0.2,0.2, -0.5,0.9,-1.3,0.7,-0.9, 1.4,-0.5,0.7,-0.8],
[-1.3,1.6,-0.6,-0.1,0.9, -1.0,0.3,1.3,-0.1,-0.9, 0.4,-0.4,1.0,-0.3,-1.3, 0.6,-0.7,1.4,-1.2,0.4, -1.0,0.2,0.9,-1.3,0.4, -0.3,1.1,-0.2,-1.8],
[1.0,-0.7,0.6,-1.9,0.1, 0.8,-0.9,-0.6,1.0,-0.2, 1.1,-1.4,0.1,0.9,-0.8, -0.2,1.0,-0.5,0.3,-1.5, 1.4,-0.3,0.4,-0.6,1.2, -1.0,-0.1,0.5,1.2],
[-0.7,0.1,-1.7,1.1,-0.2, -0.5,1.6,-0.1,-0.6,0.5, -1.1,0.8,-0.5,-0.9,0.6, 1.3,-0.4,0.2,-0.9,0.7, -0.7,0.5,-0.5,1.3,-0.1, 0.2,-1.4,0.9,-0.2],
[0.3,1.1,0.8,-0.8,1.1, -1.6,-0.1,0.5,-0.5,1.2, -0.6,0.1,0.7,-0.4,1.1, -1.2,0.6,-0.3,1.0,-0.5, 0.9,-0.9,0.3,-0.1,-1.3, 0.6,0.4,-0.8,0.4],
[-1.7,-0.2,-0.4,0.3,-0.5, 0.4,-0.5,0.9,-1.0,0.2, 0.7,-0.6,-1.0,0.6,-0.4, 0.2,0.8,-1.0,-0.4,1.1, -0.3,0.7,-0.8,0.2,0.7, -0.7,1.0,-0.4,0.1],
[1.7,0.4,-0.9,0.9,-0.1, 0.1,0.9,-1.0,0.6,-0.6, -0.2,0.5,0.4,-1.1,0.2, 0.7,-0.2,0.4,-0.6,0.0, 0.5,-0.6,0.6,-0.9,0.2, 0.3,-0.8,1.0,-0.6],
[-0.1,-0.7,0.3,-0.3,0.5, -0.6,0.1,-0.3,0.2,0.7, -0.9,0.2,-0.4,0.2,-0.7, 0.4,-0.5,-0.2,0.6,-0.9, 0.2,0.1,-0.4,0.5,-0.5, 0.8,-0.3,-0.1,0.7],
[0.9,0.8,-0.1,0.1,-0.8, 0.7,-0.3,0.1,-0.7,-0.1, 0.3,-0.3,0.8,0.0,0.5, -0.5,0.2,0.7,-0.1,0.3, -0.4,0.4,-0.1,-0.4,0.6, -0.4,0.2,-0.5,0.3],
[-0.4,0.2,0.5,-0.7,0.3, -0.2,0.5,-0.6,0.4,-0.4, 0.1,0.6,-0.2,-0.5,0.3, 0.0,-0.4,0.3,0.2,-0.3, 0.7,-0.2,0.3,0.1,-0.2, 0.1,0.6,-0.7,-0.3],
[-2.4,-1.4,1.7,-0.1,0.7, 0.3,-0.8,0.3,0.1,-0.3, 0.5,-0.1,0.2,0.4,-0.2, -0.3,0.4,-0.1,-0.3,0.5, -0.1,-0.3,0.5,-0.2,0.0, -0.1,0.3,0.2,-0.1],
[0.1,-0.2,0.1,0.4,-0.3, 0.0,0.2,-0.2,-0.2,0.4, -0.4,0.0,-0.1,0.2,0.0, 0.3,-0.1,0.1,-0.5,0.1, 0.2,0.0,-0.2,0.3,-0.4, 0.2,-0.2,0.4,0.0],
]
c_actual=[2.06,2.06,2.06,2.095,2.10,2.115,2.125,2.125,2.14,2.14,2.145,2.145,2.15,2.15,2.155,2.16,2.16,2.17,2.175,2.18,2.185,2.19,2.19,2.205,2.21,2.21,2.215,2.215,2.23,2.235,2.24,2.24,2.24,2.26,2.27,2.27,2.275,2.285,2.29,2.30,2.33,2.345,2.36,2.365,2.37,2.38,2.385,2.385,2.395,2.40,2.40,2.40,2.43,2.44,2.45,2.50,2.52,2.525,2.53,2.53,2.61]
c_pred=[2.13,2.14,2.15,2.23,2.15,2.23,2.24,2.145,2.24,2.19,2.14,2.17,2.235,2.20,2.22,2.25,2.22,2.27,2.30,2.225,2.16,2.265,2.205,2.18,2.29,2.18,2.30,2.225,2.29,2.11,2.25,2.195,2.185,2.295,2.24,2.195,2.37,2.31,2.215,2.235,2.27,2.39,2.34,2.385,2.28,2.41,2.405,2.28,2.35,2.31,2.31,2.35,2.255,2.435,2.38,2.37,2.345,2.37,2.45,2.45,2.54]

line_ranges=[(-10,25),(-20,15),(-8,10)]
line_ystep=[5,5,2]
fit_x=[1.6,2.8]
fit_y=[1.6,2.8]
notes=[('0.805','0.112'),('0.814','0.108'),('0.829','0.107')]
panel_tags=['a','b','c']

W,H=789,1045
def add_axes_px(fig,left,right,top,bottom):
    return fig.add_axes([left/W,1-bottom/H,(right-left)/W,(bottom-top)/H])

sns.set_theme(style='white')
plt.rcParams['font.family']=['Liberation Sans','DejaVu Sans']
fig=plt.figure(figsize=(W/100,H/100),dpi=100,facecolor='white')

left_boxes=[(52.7,357.3,20.3,260),(44.3,353.3,373.3,617.3),(43.3,355,726.7,973.3)]
right_boxes=[(447,763.3,23,258.3),(445,772.3,371,615),(446,771.7,728.3,970.7)]
all_peaks=[a_peaks,b_peaks,c_peaks]
all_peak_colors=[a_peak_colors,b_peak_colors,c_peak_colors]
all_wide=[a_wide,b_wide,c_wide]
all_bands=[a_band,b_band,c_band]
all_actual=[a_actual,b_actual,c_actual]
all_pred=[a_pred,b_pred,c_pred]

for i in range(3):
    ax=add_axes_px(fig,*left_boxes[i])
    for row,col in zip(all_peaks[i],all_peak_colors[i]):
        sns.lineplot(x=dims,y=row,color=col,linewidth=0.8,errorbar=None,ax=ax)
    rows=all_wide[i]+all_bands[i]
    for j,row in enumerate(rows):
        sns.lineplot(x=dims,y=row,color=matlab_colors[j%7],linewidth=1.0,errorbar=None,ax=ax)
    ax.set_xlim(0,30)
    ax.set_ylim(*line_ranges[i])
    ax.set_xticks(range(0,31,5))
    ax.set_yticks(range(line_ranges[i][0],line_ranges[i][1]+1,line_ystep[i]))
    ax.tick_params(direction='in',top=True,right=True,bottom=True,left=True,length=2.5,width=0.5,
                   labelsize=7.5,colors='#333333',pad=2)
    ax.tick_params(axis='x',pad=4)
    ax.set_xlabel('Dimension',fontsize=7.5,color='#333333',labelpad=3)
    ax.set_ylabel('Data processed by KPCA-LDA',fontsize=7.5,color='#333333',labelpad=0.5)
    for s in ax.spines.values():
        s.set_linewidth(0.6)
        s.set_color('#555555')

    ax2=add_axes_px(fig,*right_boxes[i])
    sns.lineplot(x=fit_x,y=fit_y,color='#1a1aff',linewidth=1.2,errorbar=None,ax=ax2)
    sns.scatterplot(x=all_actual[i],y=all_pred[i],marker='o',s=20,facecolors='none',edgecolor='#f02020',
                    linewidth=0.7,ax=ax2,zorder=3)
    ax2.set_xlim(1.5,3.0)
    ax2.set_ylim(1.5,3.0)
    tk=[1.6,1.8,2.0,2.2,2.4,2.6,2.8,3.0]
    ax2.set_xticks(tk)
    ax2.set_xticklabels([f'{t:.1f}' for t in tk],family='DejaVu Sans')
    ax2.set_yticks(tk)
    ax2.set_yticklabels([f'{t:.1f}' for t in tk],family='DejaVu Sans')
    ax2.tick_params(direction='out',bottom=True,left=True,length=2.5,width=0.6,labelsize=6,colors='#333333',pad=2)
    ax2.set_xlabel('Actual value',fontsize=7.5,family='DejaVu Sans',color='#333333',labelpad=0.5)
    ax2.set_ylabel('Predicted value',fontsize=7.5,family='DejaVu Sans',color='#333333',labelpad=3.5)
    for s in ax2.spines.values():
        s.set_linewidth(0.9)
        s.set_color('#666666')
    r,e=notes[i]
    ax2.text(0.07,0.885,r'$R_p$='+r,transform=ax2.transAxes,fontsize=7.8,family='DejaVu Sans',color='#333333',
             va='center',math_fontfamily='dejavusans')
    ax2.text(0.07,0.815,'RMSEP='+e,transform=ax2.transAxes,fontsize=7.8,family='DejaVu Sans',color='#333333',va='center')

tag_y=[314,670,1026]
for tag,y in zip(panel_tags,tag_y):
    fig.text(391.5/W,1-y/H,'(',fontsize=12.5,family='Liberation Serif',ha='right',va='center',color='#111111')
    fig.text(391.5/W,1-y/H,tag,fontsize=12.5,family='Liberation Serif',fontweight='bold',ha='left',va='center',color='#111111')
    fig.text((391.5+8.8)/W,1-y/H,')',fontsize=12.5,family='Liberation Serif',ha='left',va='center',color='#111111')

fig.savefig('out.png',dpi=100)
